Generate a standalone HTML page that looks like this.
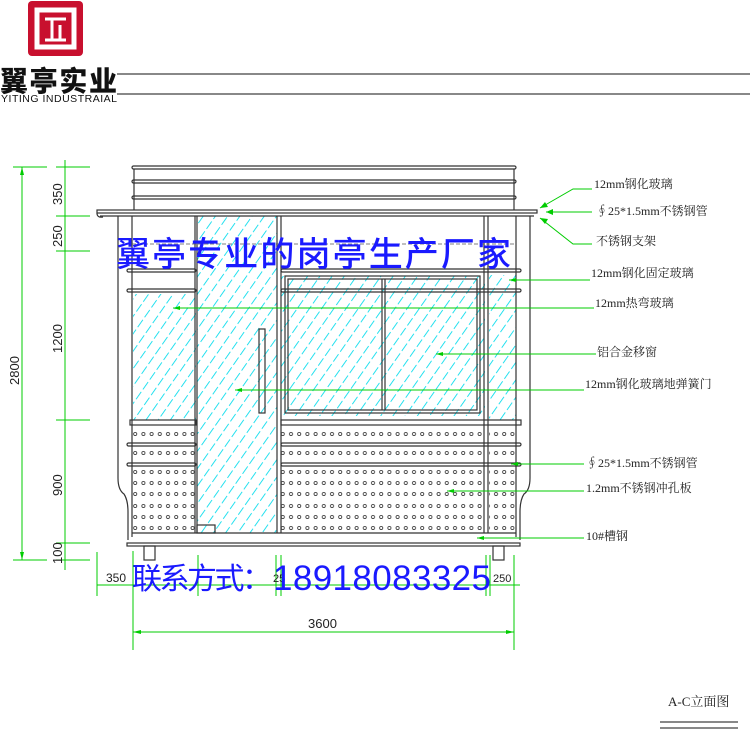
<!DOCTYPE html>
<html><head><meta charset="utf-8"><style>
html,body{margin:0;padding:0;background:#fff;}
svg{display:block;}
.t{font-family:"Liberation Serif","Noto Serif CJK SC",serif;font-size:12px;fill:#222;}
.d{font-family:"Liberation Sans",sans-serif;font-size:12px;fill:#222;}
</style></head><body>
<svg width="750" height="750" viewBox="0 0 750 750" xmlns="http://www.w3.org/2000/svg">
<defs>
<pattern id="h" width="10" height="12" patternUnits="userSpaceOnUse" patternTransform="rotate(35)">
<line x1="0" y1="0" x2="0" y2="12" stroke="#00dcec" stroke-width="1.7" stroke-dasharray="9 3"/>
</pattern>
<pattern id="p" x="0" y="400" width="8.2" height="200" patternUnits="userSpaceOnUse">
<g fill="none" stroke="#444" stroke-width="0.9">
<circle cx="4" cy="34" r="1.6"/>
<circle cx="4" cy="53" r="1.6"/>
<circle cx="4" cy="72" r="1.6"/>
<circle cx="4" cy="83" r="1.6"/>
<circle cx="4" cy="94" r="1.6"/>
<circle cx="4" cy="106" r="1.6"/>
<circle cx="4" cy="117" r="1.6"/>
<circle cx="4" cy="128" r="1.6"/>
</g>
</pattern>
</defs>

<rect x="28" y="1" width="55" height="55" rx="4" fill="#c8102e"/>
<path d="M37,10 H74 V47 H37 Z" fill="none" stroke="#fff" stroke-width="5"/>
<rect x="42" y="16" width="27" height="27" fill="#c8102e"/>
<path d="M45,19 H66 M52,19 V40 M60,25 V40 M45,40 H66" stroke="#fff" stroke-width="3" fill="none"/>
<text x="0" y="91" style="font-family:'Noto Sans CJK SC',sans-serif;font-weight:900;font-size:28px;" fill="#111" textLength="117">翼亭实业</text>
<text x="1" y="102" style="font-family:'Liberation Sans',sans-serif;font-size:10.5px;" fill="#111" textLength="116">YITING INDUSTRAIAL</text>
<line x1="117" y1="74" x2="750" y2="74" stroke="#111" stroke-width="1"/>
<line x1="117" y1="94" x2="750" y2="94" stroke="#111" stroke-width="1"/>

<g fill="url(#h)">
<rect x="133" y="294" width="63" height="126"/>
<rect x="197" y="216" width="80" height="317"/>
<rect x="281" y="276" width="204" height="140"/>
<rect x="489" y="275" width="27" height="145"/>
</g>
<g fill="url(#p)">
<rect x="133" y="425" width="63" height="108"/>
<rect x="281" y="425" width="203" height="108"/>
<rect x="489" y="425" width="27" height="108"/>
</g>

<g stroke="#333" stroke-width="1.2" fill="none">
<rect x="132" y="166" width="384" height="3" rx="1.5"/>
<rect x="132" y="180" width="384" height="3" rx="1.5"/>
<rect x="132" y="196" width="384" height="3" rx="1.5"/>
<line x1="134" y1="169" x2="134" y2="210"/><line x1="514" y1="169" x2="514" y2="210"/>
<rect x="97" y="210" width="440" height="3"/>
<line x1="100" y1="216" x2="534" y2="216"/>
<path d="M97,213 q0,5 6,4"/>
<path d="M118,216 V478 Q118,490 124,494 Q128,500 128,512 V540"/>
<path d="M530,216 V478 Q530,490 524,494 Q520,500 520,512 V540"/>
<line x1="132" y1="216" x2="132" y2="537"/>
<line x1="516" y1="216" x2="516" y2="537"/>
<line x1="195" y1="216" x2="195" y2="533"/><line x1="197" y1="216" x2="197" y2="533"/>
<line x1="277" y1="216" x2="277" y2="533"/><line x1="281" y1="216" x2="281" y2="533"/>
<line x1="484" y1="216" x2="484" y2="533"/><line x1="488" y1="216" x2="488" y2="533"/>
<rect x="127" y="269" width="69" height="3" rx="1.5"/>
<rect x="127" y="289" width="69" height="3" rx="1.5"/>
<rect x="281" y="269" width="240" height="3" rx="1.5"/>
<rect x="281" y="289" width="240" height="3" rx="1.5"/>
<rect x="130" y="420" width="66" height="5"/>
<rect x="281" y="420" width="240" height="5"/>
<rect x="127" y="443" width="69" height="3" rx="1.5"/>
<rect x="281" y="443" width="240" height="3" rx="1.5"/>
<rect x="127" y="463" width="69" height="3" rx="1.5"/>
<rect x="281" y="463" width="240" height="3" rx="1.5"/>
<rect x="285" y="276" width="195" height="137"/>
<rect x="288" y="279" width="189" height="131"/>
<line x1="382" y1="279" x2="382" y2="410"/><line x1="385" y1="279" x2="385" y2="410"/>
<rect x="259" y="329" width="6" height="84"/>
<rect x="197" y="525" width="18" height="8"/>
<line x1="132" y1="533" x2="516" y2="533"/>
<rect x="127" y="543" width="393" height="3"/>
<rect x="144" y="546" width="11" height="14"/>
<rect x="493" y="546" width="11" height="14"/>
</g>
<line x1="132" y1="244" x2="516" y2="244" stroke="#555" stroke-width="0.8" stroke-dasharray="4 2"/>

<g stroke="#0c0" stroke-width="1" fill="none">
<line x1="13" y1="167" x2="47" y2="167"/>
<line x1="56" y1="167" x2="90" y2="167"/>
<line x1="56" y1="216" x2="90" y2="216"/>
<line x1="56" y1="251" x2="90" y2="251"/>
<line x1="56" y1="420" x2="90" y2="420"/>
<line x1="56" y1="543" x2="90" y2="543"/>
<line x1="13" y1="560" x2="47" y2="560"/>
<line x1="56" y1="560" x2="90" y2="560"/>
<line x1="22" y1="167" x2="22" y2="560"/>
<line x1="65" y1="160" x2="65" y2="570"/>
<line x1="97" y1="552" x2="97" y2="596"/>
<line x1="133" y1="551" x2="133" y2="650"/>
<line x1="198" y1="555" x2="198" y2="596"/>
<line x1="276" y1="555" x2="276" y2="596"/>
<line x1="281" y1="555" x2="281" y2="596"/>
<line x1="486" y1="555" x2="486" y2="596"/>
<line x1="490" y1="555" x2="490" y2="596"/>
<line x1="514" y1="555" x2="514" y2="650"/>
<line x1="97" y1="585" x2="520" y2="585"/>
<line x1="133" y1="632" x2="514" y2="632"/>
<polyline points="592,189 573,189 540,208"/>
<line x1="592" y1="212" x2="546" y2="212"/>
<polyline points="592,244 573,244 540,218"/>
<line x1="590" y1="280" x2="509" y2="280"/>
<line x1="594" y1="308" x2="173" y2="308"/>
<line x1="596" y1="354" x2="436" y2="354"/>
<line x1="584" y1="390" x2="235" y2="390"/>
<line x1="584" y1="464" x2="511" y2="464"/>
<line x1="584" y1="491" x2="447" y2="491"/>
<line x1="584" y1="538" x2="477" y2="538"/>
</g>
<g fill="#0c0">
<path d="M540,208 l8,-1 l-3,-5z"/>
<path d="M546,212 l7,-3 v6z"/>
<path d="M540,218 l8,1 l-3,5z"/>
<path d="M509,280 l7,-2 v4z"/><path d="M173,308 l7,-2 v4z"/><path d="M436,354 l7,-2 v4z"/>
<path d="M235,390 l7,-2 v4z"/><path d="M511,464 l7,-2 v4z"/><path d="M447,491 l7,-2 v4z"/><path d="M477,538 l7,-2 v4z"/>
<path d="M22,167 l-2,8 h4z"/><path d="M22,560 l-2,-8 h4z"/>
<path d="M133,632 l8,-2 v4z"/><path d="M514,632 l-8,-2 v4z"/>
</g>
<g class="d">
<text transform="translate(19,385) rotate(-90)" font-size="13">2800</text>
<text transform="translate(62,205) rotate(-90)" font-size="13">350</text>
<text transform="translate(62,247) rotate(-90)" font-size="13">250</text>
<text transform="translate(62,353) rotate(-90)" font-size="13">1200</text>
<text transform="translate(62,496) rotate(-90)" font-size="13">900</text>
<text transform="translate(62,564) rotate(-90)" font-size="13">100</text>
<text x="106" y="582">350</text>
<text x="273" y="582" font-size="11">25</text>
<text x="493" y="582" font-size="11">250</text>
<text x="308" y="628" font-size="13">3600</text>
</g>

<g class="t">
<text x="594" y="188">12mm钢化玻璃</text>
<text x="596" y="215">∮25*1.5mm不锈钢管</text>
<text x="596" y="245">不锈钢支架</text>
<text x="591" y="277">12mm钢化固定玻璃</text>
<text x="595" y="307">12mm热弯玻璃</text>
<text x="597" y="356">铝合金移窗</text>
<text x="585" y="388">12mm钢化玻璃地弹簧门</text>
<text x="586" y="467">∮25*1.5mm不锈钢管</text>
<text x="586" y="492">1.2mm不锈钢冲孔板</text>
<text x="586" y="540">10#槽钢</text>
<text x="668" y="706" font-size="13">A-C立面图</text>
</g>
<line x1="660" y1="722" x2="738" y2="722" stroke="#111"/>
<line x1="660" y1="728" x2="738" y2="728" stroke="#111"/>

<text x="116" y="266" style="font-family:'Noto Sans CJK SC',sans-serif;font-size:34px;font-weight:500;" fill="#1a1aff" textLength="395">翼亭专业的岗亭生产厂家</text>
<text x="132" y="589" style="font-family:'Noto Sans CJK SC',sans-serif;font-size:30px;" fill="#1a1aff" textLength="140">联系方式：</text>
<text x="273" y="590" style="font-family:'Liberation Sans',sans-serif;font-size:35px;" fill="#1a1aff" textLength="218">18918083325</text>
</svg>
</body></html>
